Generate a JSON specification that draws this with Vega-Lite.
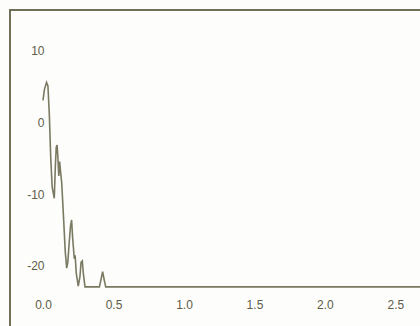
{
  "$schema": "https://vega.github.io/schema/vega-lite/v6.json",
  "width": 430,
  "height": 330,
  "autosize": {"type": "none"},
  "padding": {"left": 10, "top": 10, "right": 0, "bottom": 0},
  "background": "#fdfdfb",
  "config": {
    "view": {"stroke": "#707058", "strokeWidth": 2},
    "axis": {"labelFont": "Liberation Sans", "labelFontSize": 12, "labelColor": "#5c5c48", "grid": false, "ticks": false, "domain": false, "title": null}
  },
  "data": {"values": [
    {"x": 0.0, "y": 3.0}, {"x": 0.01, "y": 4.5}, {"x": 0.025, "y": 5.5}, {"x": 0.035, "y": 5.0},
    {"x": 0.045, "y": 1.0}, {"x": 0.055, "y": -5.0}, {"x": 0.065, "y": -9.0}, {"x": 0.08, "y": -10.6},
    {"x": 0.088, "y": -6.0}, {"x": 0.094, "y": -3.5}, {"x": 0.1, "y": -3.2}, {"x": 0.106, "y": -5.0},
    {"x": 0.112, "y": -7.5}, {"x": 0.118, "y": -5.5}, {"x": 0.125, "y": -7.0}, {"x": 0.133, "y": -8.5},
    {"x": 0.145, "y": -13.0}, {"x": 0.158, "y": -18.0}, {"x": 0.168, "y": -20.3}, {"x": 0.176, "y": -19.5},
    {"x": 0.185, "y": -17.0}, {"x": 0.195, "y": -14.5}, {"x": 0.203, "y": -13.6}, {"x": 0.21, "y": -16.0},
    {"x": 0.222, "y": -19.0}, {"x": 0.228, "y": -18.5}, {"x": 0.236, "y": -21.0}, {"x": 0.25, "y": -22.8},
    {"x": 0.262, "y": -21.5}, {"x": 0.27, "y": -19.5}, {"x": 0.279, "y": -19.3}, {"x": 0.286, "y": -21.0},
    {"x": 0.298, "y": -22.9}, {"x": 0.4, "y": -22.9}, {"x": 0.41, "y": -22.0}, {"x": 0.423, "y": -20.8},
    {"x": 0.435, "y": -22.0}, {"x": 0.445, "y": -22.9}, {"x": 2.85, "y": -22.9}
  ]},
  "mark": {"type": "line", "color": "#7a7a62", "strokeWidth": 1.6, "clip": true},
  "encoding": {
    "x": {"field": "x", "type": "quantitative",
      "scale": {"domain": [-0.234, 2.816], "nice": false, "zero": false},
      "axis": {"values": [0, 0.5, 1, 1.5, 2, 2.5], "format": ".1f", "orient": "bottom", "offset": -43, "labelPadding": 2, "labelBaseline": "top"}},
    "y": {"field": "y", "type": "quantitative",
      "scale": {"domain": [-30.28, 15.56], "nice": false, "zero": false},
      "axis": {"values": [-20, -10, 0, 10], "labelExpr": "datum.value + ''", "orient": "left", "offset": -34, "labelPadding": 0}}
  }
}
